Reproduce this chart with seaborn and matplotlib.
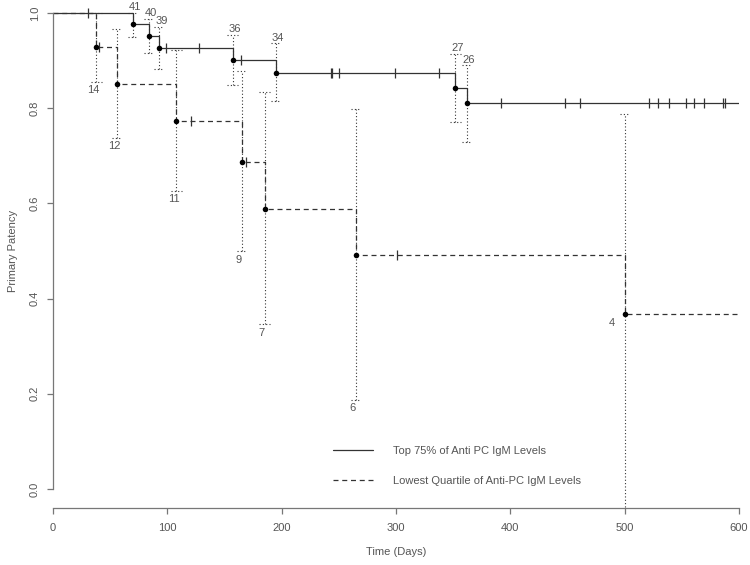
import numpy as np
import pandas as pd
import matplotlib
matplotlib.use('Agg')
import matplotlib.pyplot as plt
import seaborn as sns

# * Top 75% group: event times, KM estimate, numbers at risk, CI bounds
top_times = [70, 84, 93, 157, 195, 352, 362]
top_surv = [0.976, 0.951, 0.927, 0.901, 0.875, 0.842, 0.810]
top_risk = [41, 40, 39, 36, 34, 27, 26]
top_lower = [0.950, 0.917, 0.883, 0.848, 0.816, 0.771, 0.729]
top_upper = [1.000, 0.987, 0.970, 0.954, 0.936, 0.914, 0.890]
top_censor = [31, 99, 128, 164, 243, 244, 250, 299, 338, 392, 448, 461,
              521, 529, 539, 554, 561, 569, 586, 588]

# * Lowest quartile group
low_times = [38, 56, 108, 165, 185, 265, 500]
low_surv = [0.929, 0.851, 0.774, 0.688, 0.589, 0.491, 0.368]
low_risk = [14, 12, 11, 9, 7, 6, 4]
low_lower = [0.855, 0.738, 0.626, 0.499, 0.346, 0.187, -0.10]
low_upper = [1.000, 0.966, 0.922, 0.878, 0.834, 0.798, 0.788]
low_censor = [40, 121, 169, 301]

end_time = 600
x_ticks = [0, 100, 200, 300, 400, 500, 600]
y_ticks = [0.0, 0.2, 0.4, 0.6, 0.8, 1.0]
top_label = 'Top 75% of Anti PC IgM Levels'
low_label = 'Lowest Quartile of Anti-PC IgM Levels'

line_col = '#333333'
text_col = '#555555'
axis_col = '#777777'


def step_frame(times, surv):
    t = [0] + list(times) + [end_time]
    s = [1.0] + list(surv) + [surv[-1]]
    return pd.DataFrame({'time': t, 'surv': s})


def surv_at(times, surv, query):
    idx = np.searchsorted(times, query, side='right') - 1
    full = np.concatenate([[1.0], surv])
    return full[idx + 1]


sns.set_style('ticks')
plt.rcParams['font.family'] = ['Liberation Sans', 'DejaVu Sans']
plt.rcParams['font.size'] = 8

fig = plt.figure(figsize=(7.5, 5.65), dpi=100)
ax = fig.add_axes([53 / 750, 57 / 565, 686 / 750, 514 / 565])

dotted = (0, (1, 2))
groups = [
    (top_times, top_surv, top_risk, top_lower, top_upper, top_censor, '-', top_label),
    (low_times, low_surv, low_risk, low_lower, low_upper, low_censor, (0, (4, 3)), low_label),
]

handles = []
for times, surv, risk, lower, upper, cens, ls, lab in groups:
    df = step_frame(times, surv)
    sns.lineplot(data=df, x='time', y='surv', drawstyle='steps-post',
                 estimator=None, sort=False, color=line_col, lw=0.9,
                 linestyle=ls, ax=ax)
    handles.append(ax.lines[-1])

    # confidence intervals with small caps
    ax.vlines(times, lower, upper, colors=line_col, linestyles=dotted, lw=0.8)
    ax.hlines(upper, np.array(times) - 4.5, np.array(times) + 4.5,
              colors=line_col, linestyles=dotted, lw=0.8)
    low_arr = np.array(lower)
    ok = low_arr >= 0
    ax.hlines(low_arr[ok], np.array(times)[ok] - 4.5, np.array(times)[ok] + 4.5,
              colors=line_col, linestyles=dotted, lw=0.8)

    # censor marks
    ax.plot(cens, surv_at(np.array(times), np.array(surv), np.array(cens)),
            ls='none', marker='|', ms=6.5, mew=0.9, color=line_col)

    # event points
    sns.scatterplot(x=times, y=surv, color='black', s=16, linewidth=0,
                    ax=ax, zorder=5, legend=False)

# numbers at risk
for t, n, u in zip(top_times, top_risk, top_upper):
    ax.annotate(str(n), (t, u), xytext=(1.4, 4.2), textcoords='offset points',
                ha='center', va='center', color=text_col, fontsize=8)
for t, n, lo, s in zip(low_times, low_risk, low_lower, low_surv):
    if lo >= 0:
        ax.annotate(str(n), (t, lo), xytext=(-2.2, -6.0), textcoords='offset points',
                    ha='center', va='center', color=text_col, fontsize=8)
    else:
        ax.annotate(str(n), (t, s), xytext=(-9.0, -6.5), textcoords='offset points',
                    ha='center', va='center', color=text_col, fontsize=8)

ax.set_xlim(0, end_time)
ax.set_ylim(-0.04, 1.04)
ax.set_xticks(x_ticks)
ax.set_yticks(y_ticks)
ax.set_xticklabels([str(v) for v in x_ticks])
ax.set_yticklabels(['%.1f' % v for v in y_ticks], rotation=90, va='center')
ax.tick_params(axis='both', colors=axis_col, labelcolor=text_col, labelsize=8,
               length=4.5, width=0.9)
ax.tick_params(axis='x', pad=6)
ax.tick_params(axis='y', pad=5)

for side in ['top', 'right']:
    ax.spines[side].set_visible(False)
ax.spines['left'].set_bounds(0, 1)
ax.spines['bottom'].set_bounds(0, end_time)
for side in ['left', 'bottom']:
    ax.spines[side].set_color(axis_col)
    ax.spines[side].set_linewidth(0.9)

ax.set_xlabel('')
ax.set_ylabel('')
fig.text(396 / 750, 1 - 552 / 565, 'Time (Days)', ha='center', va='center',
         color=text_col, fontsize=8)
fig.text(13 / 750, 1 - 251 / 565, 'Primary Patency', ha='center', va='center',
         rotation=90, color=text_col, fontsize=8)

leg = ax.legend(handles, [top_label, low_label], loc='upper left',
                bbox_to_anchor=(333 / 750, 1 - 446 / 565),
                bbox_transform=fig.transFigure, frameon=False, borderpad=0,
                borderaxespad=0, handlelength=3.6, handletextpad=1.8,
                labelspacing=1.8, fontsize=8)
for txt in leg.get_texts():
    txt.set_color(text_col)

fig.savefig('out.png', dpi=100)
